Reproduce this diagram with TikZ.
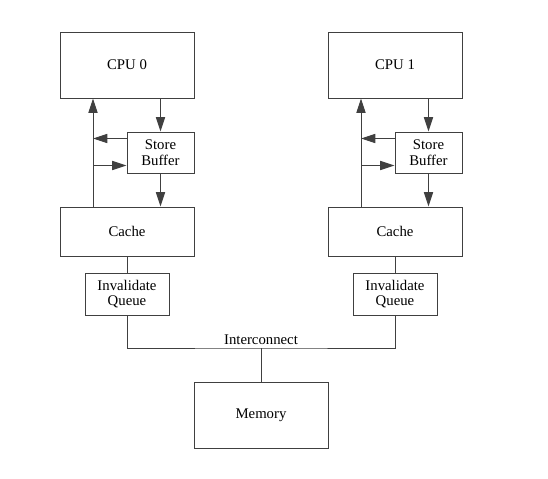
\documentclass[tikz,border=0pt]{standalone}
\usepackage{fontspec}
\setmainfont{Liberation Serif}
\usetikzlibrary{arrows.meta}

\begin{document}
\begin{tikzpicture}[
    line width=0.7pt, draw=black!75,
    >={Triangle[length=3.6mm,width=2.3mm]},
    box/.style={draw=black!75, line width=0.7pt, align=center, inner sep=1pt,
      font=\fontsize{10.5}{11}\selectfont},
    bigbox/.style={box, minimum width=3.35cm, minimum height=1.65cm},
    cachebox/.style={box, minimum width=3.35cm, minimum height=1.225cm},
    sbbox/.style={box, minimum width=1.675cm, minimum height=1.025cm},
    iqbox/.style={box, minimum width=2.1cm, minimum height=1.05cm},
    wire/.style={draw=black!75, line width=0.7pt}
  ]
  \useasboundingbox (0,0) rectangle (13.7,-11.975);

  % Left side: CPU 0 with its store buffer, cache and invalidate queue
  \begin{scope}[shift={(0,0)}]
    \node[bigbox] (cpu0) at (3.175,-1.625) {CPU 0};
    \node[sbbox] (sb0) at (4.0125,-3.8125) {Store\\Buffer};
    \node[cachebox] (cache0) at (3.175,-5.7875) {Cache};
    \node[iqbox] (iq0) at (3.175,-7.35) {Invalidate\\Queue};
    \coordinate (up0) at (2.325,-5);
    \coordinate (out0) at ([yshift=-0.175cm]sb0.north west);
    \coordinate (in0) at ([yshift=0.2cm]sb0.south west);
    % Cache to CPU, store buffer in between
    \draw[wire, ->] (cache0.north -| up0) -- (cpu0.south -| up0);
    \draw[wire, ->] (cpu0.south -| sb0) -- (sb0.north);
    \draw[wire, ->] (sb0.south) -- (cache0.north -| sb0);
    \draw[wire, ->] (out0) -- (out0 -| up0);
    \draw[wire, ->] (in0 -| up0) -- (in0);
    \draw[wire] (cache0.south) -- (iq0.north);
  \end{scope}

  % Right side: CPU 1, same layout shifted
  \begin{scope}[shift={(6.7,0)}]
    \node[bigbox] (cpu1) at (3.175,-1.625) {CPU 1};
    \node[sbbox] (sb1) at (4.0125,-3.8125) {Store\\Buffer};
    \node[cachebox] (cache1) at (3.175,-5.7875) {Cache};
    \node[iqbox] (iq1) at (3.175,-7.35) {Invalidate\\Queue};
    \coordinate (up1) at (2.325,-5);
    \coordinate (out1) at ([yshift=-0.175cm]sb1.north west);
    \coordinate (in1) at ([yshift=0.2cm]sb1.south west);
    \draw[wire, ->] (cache1.north -| up1) -- (cpu1.south -| up1);
    \draw[wire, ->] (cpu1.south -| sb1) -- (sb1.north);
    \draw[wire, ->] (sb1.south) -- (cache1.north -| sb1);
    \draw[wire, ->] (out1) -- (out1 -| up1);
    \draw[wire, ->] (in1 -| up1) -- (in1);
    \draw[wire] (cache1.south) -- (iq1.north);
  \end{scope}

  % Interconnect and memory
  \node[bigbox] (mem) at (6.525,-10.3875) {Memory};
  \coordinate (bus) at (6.525,-8.7);
  \node[font=\fontsize{10.5}{11}\selectfont, above, inner sep=2pt] (ic) at (bus) {Interconnect};
  \draw[wire] (iq0.south) |- (bus) -| (iq1.south);
  \draw[wire] (bus) -- (mem.north);
\end{tikzpicture}
\end{document}
